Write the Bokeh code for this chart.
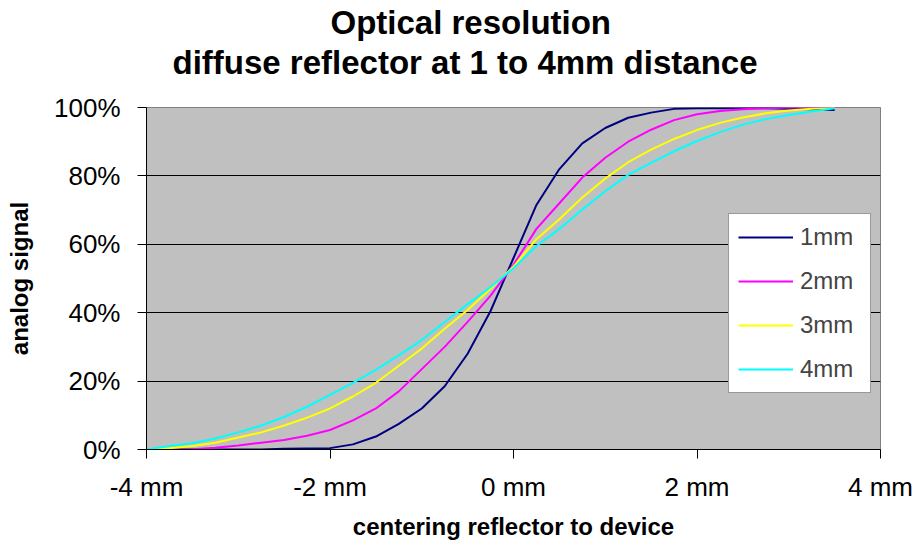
from bokeh.plotting import figure
from bokeh.models import Range1d, FixedTicker, Legend, LegendItem, Title
from bokeh.embed import file_html
from bokeh.resources import INLINE

# distance from centre (mm)
x_mm = [-4.0, -3.75, -3.5, -3.25, -3.0, -2.75, -2.5, -2.25, -2.0, -1.75, -1.5,
        -1.25, -1.0, -0.75, -0.5, -0.25, 0.0, 0.25, 0.5, 0.75, 1.0, 1.25, 1.5,
        1.75, 2.0, 2.25, 2.5, 2.75, 3.0, 3.25, 3.5]

# analog signal (%)
s_1mm = [0, 0, 0, 0, 0, 0, 0.2, 0.3, 0.4, 1.5, 3.8, 7.5, 12, 18.5, 28, 40.5,
         56, 71.5, 82, 89.5, 94, 97, 98.5, 99.6, 99.8, 99.8, 99.8, 99.8, 99.6, 99.5, 99.3]
s_2mm = [0, 0, 0.1, 0.5, 1.2, 2, 2.8, 4, 5.7, 8.5, 12, 17, 23.5, 30, 37.3, 45,
         54, 64.5, 72, 79.5, 85.3, 90, 93.5, 96.3, 98, 99, 99.5, 99.8, 100, 100, 100]
s_3mm = [0, 0.4, 1, 2, 3.5, 5, 7, 9.3, 12, 15.5, 19.5, 24.5, 29.5, 35.3, 40.8, 47,
         53.5, 61.5, 67.3, 73.7, 79.2, 84, 87.7, 90.8, 93.4, 95.5, 97.1, 98.3, 99.1, 99.6, 99.9]
s_4mm = [0, 1, 1.8, 3.2, 5, 7, 9.5, 12.5, 16, 19.5, 23.3, 27.5, 32, 37.3, 42.5, 47.5,
         53, 59.5, 64.5, 70.2, 75.5, 80.3, 83.8, 87.2, 90.2, 92.8, 95, 96.6, 97.8, 98.8, 99.8]

series_names = ["1mm", "2mm", "3mm", "4mm"]
series_colors = ["#000080", "#FF00FF", "#FFFF00", "#00FFFF"]

x_ticks = [-4, -2, 0, 2, 4]
x_tick_labels = ["-4 mm", "-2 mm", "0 mm", "2 mm", "4 mm"]
y_ticks = [0, 20, 40, 60, 80, 100]
y_tick_labels = ["0%", "20%", "40%", "60%", "80%", "100%"]

title_1 = "Optical resolution"
title_2 = "diffuse reflector at 1 to 4mm distance"
x_title = "centering reflector to device"
y_title = "analog signal"

FONT = "Liberation Sans"

p = figure(width=915, height=542, output_backend="svg", toolbar_location=None,
           x_range=Range1d(-4, 4), y_range=Range1d(0, 100),
           min_border_left=146, min_border_right=35, min_border_top=107,
           min_border_bottom=93)

p.background_fill_color = "#C0C0C0"
p.border_fill_color = "white"
p.outline_line_color = "#808080"
p.outline_line_width = 1

p.xgrid.visible = False
p.ygrid.grid_line_color = "#000000"
p.ygrid.grid_line_width = 1
p.ygrid.ticker = FixedTicker(ticks=y_ticks)

for ax, ticks, labels in ((p.xaxis[0], x_ticks, x_tick_labels), (p.yaxis[0], y_ticks, y_tick_labels)):
    ax.ticker = FixedTicker(ticks=ticks)
    ax.major_label_overrides = {t: l for t, l in zip(ticks, labels)}
    ax.major_tick_in = 0
    ax.major_tick_out = 9
    ax.minor_tick_line_color = None
    ax.axis_line_color = "#000000"
    ax.major_tick_line_color = "#000000"
    ax.major_label_text_font = FONT
    ax.major_label_text_font_size = "26px"
    ax.major_label_text_color = "#000000"
    ax.axis_label_text_font = FONT
    ax.axis_label_text_font_size = "24px"
    ax.axis_label_text_font_style = "bold"
    ax.axis_label_text_color = "#000000"

p.xaxis.major_label_standoff = 13
p.yaxis.major_label_standoff = 17
p.xaxis.axis_label = x_title
p.yaxis.axis_label = y_title
p.xaxis.axis_label_standoff = 8
p.yaxis.axis_label_standoff = 18

items = []
for name, ys, col in zip(series_names, [s_1mm, s_2mm, s_3mm, s_4mm], series_colors):
    r = p.line(x_mm, ys, line_color=col, line_width=2)
    items.append(LegendItem(label=name, renderers=[r]))

legend = Legend(items=items, location=(582, 56))
legend.label_text_font = FONT
legend.label_text_font_size = "24px"
legend.glyph_width = 55
legend.glyph_height = 20
legend.label_standoff = 7
legend.label_width = 61
legend.label_height = 28
legend.spacing = 16
legend.padding = 9
legend.margin = 0
legend.border_line_color = "#333333"
legend.border_line_width = 1
legend.background_fill_color = "white"
legend.background_fill_alpha = 1
p.add_layout(legend, "center")

# second line sits next to the frame, first line above it
p.add_layout(Title(text=title_2, align="left", offset=26, standoff=53,
                   text_font=FONT, text_font_size="33px", text_font_style="bold",
                   text_color="#000000"), "above")
p.add_layout(Title(text=title_1, align="left", offset=184, standoff=-50,
                   text_font=FONT, text_font_size="33px", text_font_style="bold",
                   text_color="#000000"), "above")

open("out.html", "w").write(file_html(p, INLINE))
